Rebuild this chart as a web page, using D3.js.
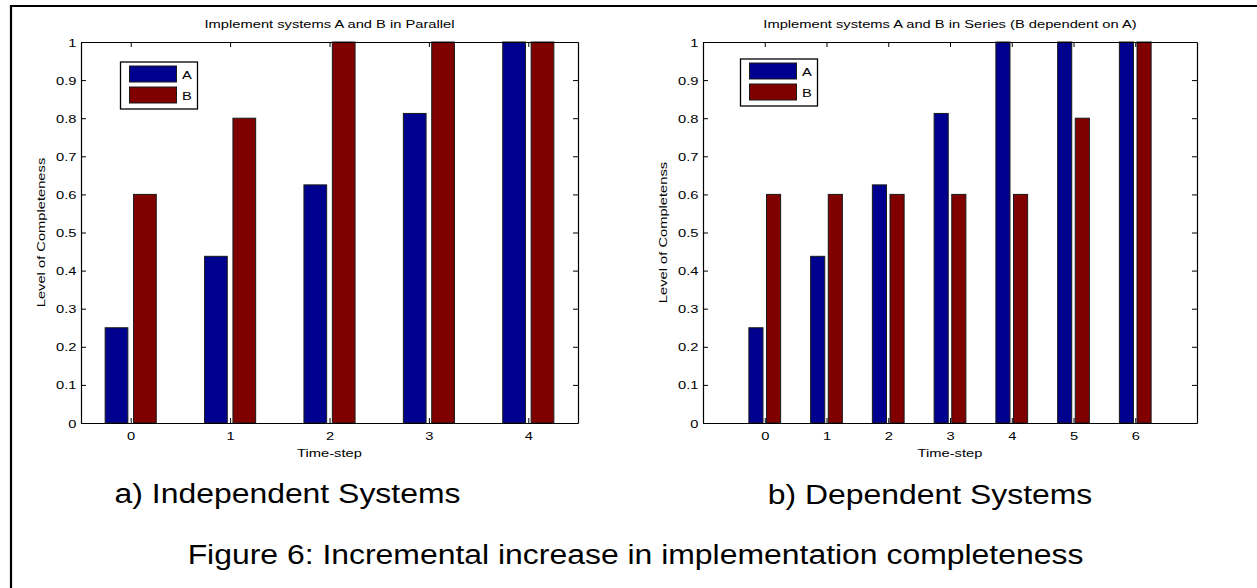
<!DOCTYPE html>
<html>
<head>
<meta charset="utf-8">
<script src="https://cdn.jsdelivr.net/npm/d3@7"></script>
<style>
  html, body { margin: 0; padding: 0; background: #fff; }
  svg { display: block; }
  text { font-family: "Liberation Sans", Arial, Helvetica, sans-serif; fill: #000; }
</style>
</head>
<body>
<svg id="fig" width="1257" height="588"></svg>
<script>
// ---------- data ----------
const seriesNames = ["A", "B"];
const stepsParallel = [0, 1, 2, 3, 4];
const parallelA = [0.25, 0.4375, 0.625, 0.8125, 1.0];
const parallelB = [0.6, 0.8, 1.0, 1.0, 1.0];
const stepsSeries = [0, 1, 2, 3, 4, 5, 6];
const seriesA = [0.25, 0.4375, 0.625, 0.8125, 1.0, 1.0, 1.0];
const seriesB = [0.6, 0.6, 0.6, 0.6, 0.6, 0.8, 1.0];
const yTickValues = [0, 0.1, 0.2, 0.3, 0.4, 0.5, 0.6, 0.7, 0.8, 0.9, 1];
const yTickLabels = ["0", "0.1", "0.2", "0.3", "0.4", "0.5", "0.6", "0.7", "0.8", "0.9", "1"];
const titles = ["Implement systems A and B in Parallel", "Implement systems A and B in Series (B dependent on A)"];
const yLabels = ["Level of Completeness", "Level of Completenss"];
const xLabel = "Time-step";
const subCaptions = ["a) Independent Systems", "b) Dependent Systems"];
const figCaption = "Figure 6: Incremental increase in implementation completeness";

// ---------- style ----------
const colors = ["#00008f", "#800000"];
const FS = 11.5, SX = 1.28;      // small MATLAB text
const CFS = 28, CSX = 1.14;      // caption text
const TICK = 5;

const svg = d3.select("#fig");

function stext(g, x, y, str, fs, sx, anchor, extra) {
  return g.append("text")
    .attr("transform", `translate(${x},${y}) ${extra || ""} scale(${sx},1)`)
    .attr("text-anchor", anchor || "middle")
    .style("font-size", fs + "px")
    .text(str);
}

// outer frame (top and left edges)
svg.append("line").attr("x1", 10).attr("x2", 1257).attr("y1", 6).attr("y2", 6)
  .attr("stroke", "#000").attr("stroke-width", 2.2);
svg.append("line").attr("x1", 11).attr("x2", 11).attr("y1", 5).attr("y2", 588)
  .attr("stroke", "#000").attr("stroke-width", 2.2);

const charts = [
  { steps: stepsParallel, a: parallelA, b: parallelB, domain: [-0.5, 4.5],
    x0: 81, x1: 578, legend: { dx: 39.5, dy: 20 } },
  { steps: stepsSeries, a: seriesA, b: seriesB, domain: [-1, 7],
    x0: 703, x1: 1197, legend: { dx: 37.5, dy: 17 } }
];
const yTop = 42, yBot = 423;

charts.forEach((c, ci) => {
  const x = d3.scaleLinear().domain(c.domain).range([c.x0, c.x1]);
  const y = d3.scaleLinear().domain([0, 1]).range([yBot, yTop]);
  const g = svg.append("g");

  // grouped bars (MATLAB layout: group width 0.5714, bar width 0.2286)
  const groupW = Math.min(0.8, 2 / 3.5);
  const barW = groupW / 2 * 0.8;
  const offs = [-groupW / 4, groupW / 4];
  const seriesVals = [c.a, c.b];
  seriesVals.forEach((vals, si) => {
    g.append("g").selectAll("rect")
      .data(c.steps.map((s, i) => ({ s, v: vals[i] })))
      .join("rect")
      .attr("x", d => x(d.s + offs[si] - barW / 2))
      .attr("width", d => x(d.s + offs[si] + barW / 2) - x(d.s + offs[si] - barW / 2))
      .attr("y", d => y(d.v))
      .attr("height", d => y(0) - y(d.v))
      .attr("fill", colors[si])
      .attr("stroke", "#1a1a1a")
      .attr("stroke-width", 1);
  });

  // axes
  const axB = g.append("g").attr("transform", `translate(0,${yBot})`)
    .call(d3.axisBottom(x).tickValues(c.steps).tickSizeInner(-TICK).tickSizeOuter(0).tickFormat(d3.format("d")));
  const axT = g.append("g").attr("transform", `translate(0,${yTop})`)
    .call(d3.axisTop(x).tickValues(c.steps).tickSizeInner(-TICK).tickSizeOuter(0).tickFormat(""));
  const axL = g.append("g").attr("transform", `translate(${c.x0},0)`)
    .call(d3.axisLeft(y).tickValues(yTickValues).tickSizeInner(-TICK).tickSizeOuter(0)
      .tickFormat((d, i) => yTickLabels[i]));
  const axR = g.append("g").attr("transform", `translate(${c.x1},0)`)
    .call(d3.axisRight(y).tickValues(yTickValues).tickSizeInner(-TICK).tickSizeOuter(0).tickFormat(""));

  [axB, axT, axL, axR].forEach(a => {
    a.attr("font-family", null).attr("font-size", null);
    a.select(".domain").attr("stroke", "#000").attr("stroke-width", 1.2);
    a.selectAll(".tick line").attr("stroke", "#000").attr("stroke-width", 1);
  });
  axB.selectAll(".tick text")
    .attr("x", null).attr("y", null).attr("dy", "0.71em")
    .attr("transform", `translate(0,9) scale(${SX},1)`)
    .attr("fill", "#000").style("font-size", FS + "px");
  axL.selectAll(".tick text")
    .attr("x", null).attr("dy", "0.35em")
    .attr("transform", `translate(-4.5,0) scale(${SX},1)`)
    .attr("fill", "#000").style("font-size", FS + "px");

  // title and axis labels
  stext(g, (c.x0 + c.x1) / 2, 28, titles[ci], FS, SX, "middle");
  stext(g, (c.x0 + c.x1) / 2, 457, xLabel, FS, SX, "middle");
  stext(g, c.x0 - 36, (yTop + yBot) / 2, yLabels[ci], FS, SX, "middle", "rotate(-90)");

  // legend
  const lx = c.x0 + c.legend.dx, ly = yTop + c.legend.dy;
  const lg = g.append("g");
  lg.append("rect").attr("x", lx).attr("y", ly).attr("width", 77).attr("height", 47)
    .attr("fill", "#fff").attr("stroke", "#000").attr("stroke-width", 1.3);
  seriesNames.forEach((n, si) => {
    lg.append("rect").attr("x", lx + 9).attr("y", ly + 4 + si * 21).attr("width", 47).attr("height", 16)
      .attr("fill", colors[si]).attr("stroke", "#1a1a1a").attr("stroke-width", 1);
    stext(lg, lx + 61.5, ly + 16.5 + si * 21, n, FS, SX, "start");
  });
});

// captions
stext(svg, 287.5, 503, subCaptions[0], CFS, CSX, "middle");
stext(svg, 930, 504, subCaptions[1], CFS, CSX, "middle");
stext(svg, 635.5, 564, figCaption, CFS, CSX, "middle");
</script>
</body>
</html>
